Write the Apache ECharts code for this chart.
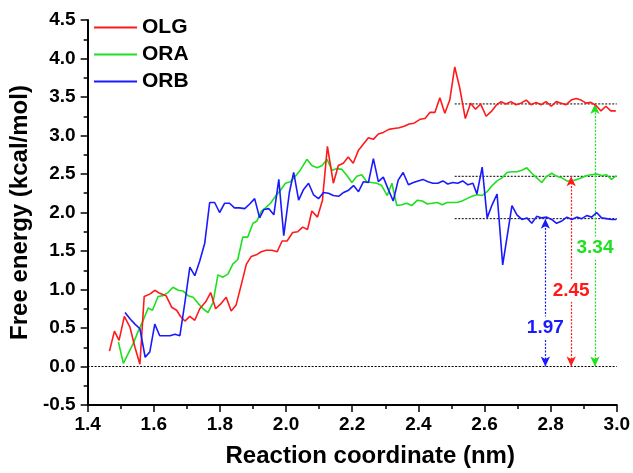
<!DOCTYPE html>
<html>
<head>
<meta charset="utf-8">
<script src="https://cdn.jsdelivr.net/npm/echarts@6/dist/echarts.min.js"></script>
<style>html,body{margin:0;padding:0;background:#fff}#c{width:633px;height:473px}</style>
</head>
<body>
<div id="c"></div>
<script>
// ---- data ----
const xTicks = [1.4, 1.6, 1.8, 2.0, 2.2, 2.4, 2.6, 2.8, 3.0];
const yTicks = [-0.5, 0.0, 0.5, 1.0, 1.5, 2.0, 2.5, 3.0, 3.5, 4.0, 4.5];
const seriesNames = ['OLG', 'ORA', 'ORB'];

const olgX = [1.466,1.481,1.495,1.511,1.528,1.543,1.558,1.571,1.588,1.603,1.618,1.637,1.654,1.669,1.681,1.694,1.709,1.724,1.739,1.757,1.772,1.787,1.804,1.819,1.834,1.849,1.865,1.880,1.895,1.910,1.925,1.940,1.957,1.973,1.988,2.003,2.020,2.035,2.050,2.065,2.078,2.095,2.110,2.125,2.143,2.158,2.173,2.188,2.203,2.219,2.234,2.249,2.264,2.279,2.294,2.311,2.326,2.342,2.357,2.372,2.387,2.405,2.420,2.435,2.450,2.465,2.480,2.495,2.510,2.525,2.542,2.558,2.573,2.588,2.605,2.620,2.635,2.650,2.665,2.680,2.695,2.710,2.726,2.741,2.756,2.771,2.786,2.802,2.817,2.832,2.847,2.862,2.877,2.892,2.907,2.922,2.937,2.952,2.967,2.982,2.997];
const olgY = [0.20,0.46,0.34,0.65,0.51,0.25,0.03,0.91,0.94,0.99,0.95,0.92,0.77,0.73,0.65,0.59,0.65,0.60,0.75,0.84,0.96,0.75,0.82,0.90,0.72,0.80,1.07,1.33,1.43,1.45,1.49,1.51,1.51,1.49,1.63,1.63,1.74,1.75,1.81,1.78,2.02,1.94,2.16,2.86,2.38,2.61,2.64,2.72,2.64,2.81,2.89,2.97,2.95,3.02,3.04,3.08,3.09,3.10,3.12,3.15,3.16,3.21,3.22,3.30,3.30,3.49,3.29,3.46,3.89,3.62,3.22,3.42,3.34,3.41,3.25,3.31,3.39,3.44,3.41,3.44,3.40,3.42,3.46,3.40,3.43,3.40,3.44,3.38,3.44,3.42,3.40,3.46,3.48,3.46,3.42,3.43,3.39,3.32,3.38,3.32,3.32];

const oraX = [1.493,1.508,1.523,1.538,1.553,1.568,1.583,1.596,1.613,1.628,1.643,1.658,1.674,1.689,1.704,1.719,1.734,1.749,1.764,1.779,1.794,1.809,1.824,1.839,1.854,1.869,1.884,1.900,1.912,1.924,1.938,1.953,1.968,1.983,1.998,2.013,2.028,2.043,2.063,2.078,2.094,2.109,2.124,2.139,2.154,2.169,2.184,2.199,2.214,2.229,2.244,2.259,2.274,2.289,2.306,2.320,2.335,2.350,2.365,2.380,2.397,2.412,2.427,2.442,2.457,2.472,2.487,2.502,2.517,2.532,2.547,2.562,2.577,2.592,2.608,2.623,2.638,2.653,2.668,2.683,2.698,2.713,2.728,2.743,2.758,2.773,2.788,2.803,2.818,2.834,2.849,2.864,2.879,2.894,2.909,2.924,2.939,2.954,2.969,2.984,2.999];
const oraY = [0.32,0.04,0.17,0.30,0.46,0.60,0.76,0.73,0.91,0.92,0.96,1.03,0.99,0.98,0.92,0.90,0.82,0.75,0.70,0.83,1.19,1.16,1.20,1.33,1.39,1.68,1.68,1.86,1.89,2.01,2.06,2.12,2.21,2.29,2.38,2.40,2.47,2.55,2.69,2.61,2.58,2.61,2.69,2.55,2.57,2.56,2.48,2.39,2.47,2.49,2.40,2.39,2.38,2.35,2.22,2.38,2.09,2.10,2.12,2.09,2.16,2.15,2.11,2.12,2.13,2.10,2.13,2.13,2.13,2.15,2.18,2.21,2.23,2.22,2.27,2.35,2.41,2.45,2.52,2.53,2.53,2.55,2.58,2.51,2.45,2.39,2.47,2.51,2.47,2.45,2.41,2.41,2.43,2.45,2.48,2.49,2.50,2.48,2.49,2.43,2.48];

const orbX = [1.513,1.528,1.543,1.558,1.574,1.588,1.603,1.618,1.634,1.649,1.664,1.679,1.694,1.709,1.724,1.739,1.754,1.769,1.784,1.799,1.814,1.829,1.844,1.859,1.875,1.890,1.905,1.920,1.933,1.948,1.963,1.978,1.993,2.010,2.023,2.038,2.053,2.068,2.083,2.098,2.113,2.128,2.143,2.159,2.174,2.189,2.204,2.219,2.234,2.249,2.264,2.279,2.294,2.309,2.324,2.339,2.354,2.370,2.385,2.399,2.414,2.429,2.444,2.459,2.474,2.489,2.504,2.519,2.534,2.550,2.565,2.577,2.593,2.608,2.623,2.638,2.655,2.683,2.698,2.713,2.728,2.743,2.758,2.773,2.788,2.803,2.818,2.834,2.849,2.864,2.879,2.894,2.909,2.924,2.939,2.954,2.969,2.984,2.999];
const orbY = [0.70,0.62,0.55,0.49,0.12,0.19,0.55,0.40,0.40,0.40,0.42,0.40,0.83,1.29,1.18,1.37,1.60,2.13,2.13,2.00,2.12,2.12,2.06,2.06,2.05,2.11,2.18,1.93,2.04,2.05,1.97,2.43,1.70,2.26,2.52,2.16,2.30,2.38,2.23,2.18,2.26,2.25,2.22,2.21,2.26,2.29,2.35,2.27,2.40,2.39,2.70,2.40,2.46,2.30,2.15,2.42,2.52,2.36,2.39,2.41,2.43,2.40,2.38,2.38,2.41,2.37,2.39,2.38,2.41,2.36,2.38,2.24,2.59,1.93,2.10,2.24,1.32,2.09,1.97,1.91,1.93,1.86,1.95,1.93,1.94,1.91,1.86,1.89,1.94,1.91,1.94,1.92,1.96,1.94,2.00,1.93,1.92,1.91,1.91];

// plateau reference levels (dotted black lines) and arrows
const plateauLevels = [3.41, 2.47, 1.92];
const plateauStart = 2.51;
const arrowX = [2.784, 2.862, 2.934];
const arrowTop = [1.92, 2.47, 3.41];
const arrowLabels = ['1.97', '2.45', '3.34'];
const arrowLabelY = [0.50, 0.99, 1.54];

const RED = '#ff1a1a', GREEN = '#1ee01e', BLUE = '#1a1aff';
const arrowColors = [BLUE, RED, GREEN];

function pairs(xs, ys) { return xs.map((x, i) => [x, ys[i]]); }

const font = 'Arial, "Liberation Sans", sans-serif';
const chart = echarts.init(document.getElementById('c'), null, {renderer: 'canvas'});

const series = [
  {name: 'OLG', type: 'line', data: pairs(olgX, olgY), showSymbol: false, lineStyle: {color: RED, width: 1.6}, itemStyle: {color: RED}, z: 5},
  {name: 'ORA', type: 'line', data: pairs(oraX, oraY), showSymbol: false, lineStyle: {color: GREEN, width: 1.6}, itemStyle: {color: GREEN}, z: 4},
  {name: 'ORB', type: 'line', data: pairs(orbX, orbY), showSymbol: false, lineStyle: {color: BLUE, width: 1.6}, itemStyle: {color: BLUE}, z: 6}
];

// zero line
series.push({type: 'line', name: 'zero', data: [[xTicks[0], 0], [xTicks[xTicks.length - 1], 0]], showSymbol: false, silent: true,
  lineStyle: {color: '#000', width: 1, type: [2, 1.5]}, z: 2});
// plateau lines
plateauLevels.forEach((lv, i) => {
  series.push({type: 'line', name: 'lvl' + i, data: [[plateauStart, lv], [xTicks[xTicks.length - 1], lv]], showSymbol: false, silent: true,
    lineStyle: {color: '#000', width: 1, type: [2, 1.5]}, z: 3});
});
// arrows + labels (one dummy series per arrow so colours are unambiguous)
arrowX.forEach((x, i) => {
  series.push({
    type: 'line', name: 'arrow' + i, data: [], silent: true,
    markLine: {
      silent: true, animation: false,
      symbol: ['arrow', 'arrow'], symbolSize: [7, 10],
      label: {show: false},
      lineStyle: {color: arrowColors[i], width: 1.2, type: [2, 1.5]},
      itemStyle: {color: arrowColors[i]},
      data: [[{coord: [x, 0]}, {coord: [x, arrowTop[i]]}]]
    },
    markPoint: {
      silent: true, animation: false,
      symbol: 'rect', symbolSize: 1, itemStyle: {color: 'rgba(0,0,0,0)'},
      data: [{
        coord: [x, arrowLabelY[i]], value: arrowLabels[i],
        label: {show: true, position: 'inside', formatter: arrowLabels[i], color: arrowColors[i],
          fontSize: 19, fontWeight: 'bold', fontFamily: font, backgroundColor: '#fff', padding: [2, 1]}
      }]
    },
    z: 8
  });
});

chart.setOption({
  animation: false,
  backgroundColor: '#fff',
  grid: {left: 87.5, right: 15, top: 20, bottom: 65, containLabel: false},
  legend: {
    data: seriesNames, orient: 'vertical', left: 94, top: 17, padding: 0,
    icon: 'rect', itemWidth: 43, itemHeight: 2, itemGap: 6,
    textStyle: {fontSize: 21, fontWeight: 'bold', color: '#000', fontFamily: font, lineHeight: 20}
  },
  xAxis: {
    type: 'value', min: xTicks[0], max: xTicks[xTicks.length - 1], interval: 0.2,
    name: 'Reaction coordinate (nm)', nameLocation: 'middle', nameGap: 39,
    nameTextStyle: {fontSize: 24, fontWeight: 'bold', color: '#000', fontFamily: font, padding: [0, 0, 0, 36]},
    axisLine: {onZero: false, lineStyle: {color: '#000', width: 2}},
    axisTick: {show: true, inside: false, length: 7, lineStyle: {color: '#000', width: 1.5}},
    minorTick: {show: true, splitNumber: 2, length: 4, lineStyle: {color: '#000', width: 1.5}},
    splitLine: {show: false},
    axisLabel: {formatter: v => v.toFixed(1), fontSize: 19, fontWeight: 'bold', color: '#000', fontFamily: font, margin: 10}
  },
  yAxis: {
    type: 'value', min: yTicks[0], max: yTicks[yTicks.length - 1], interval: 0.5,
    name: 'Free energy (kcal/mol)', nameLocation: 'middle', nameGap: 50,
    nameTextStyle: {fontSize: 24, fontWeight: 'bold', color: '#000', fontFamily: font},
    axisLine: {onZero: false, lineStyle: {color: '#000', width: 2}},
    axisTick: {show: true, inside: false, length: 7, lineStyle: {color: '#000', width: 1.5}},
    minorTick: {show: true, splitNumber: 2, length: 4, lineStyle: {color: '#000', width: 1.5}},
    splitLine: {show: false},
    axisLabel: {formatter: v => v.toFixed(1), fontSize: 19, fontWeight: 'bold', color: '#000', fontFamily: font, margin: 12}
  },
  series: series
});
</script>
</body>
</html>
